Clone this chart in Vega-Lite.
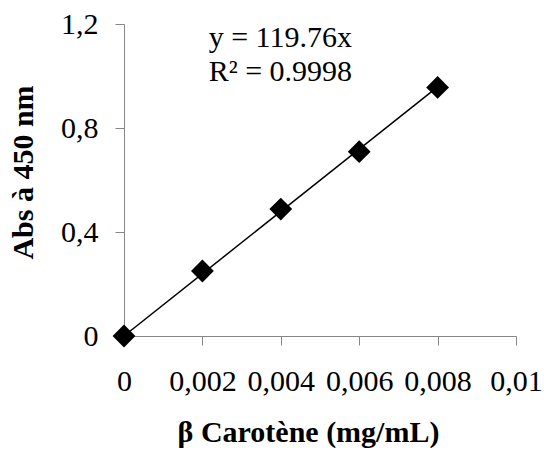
{
  "$schema": "https://vega.github.io/schema/vega-lite/v6.json",
  "width": 392,
  "height": 312,
  "autosize": {"type": "none"},
  "padding": {"left": 124, "top": 24, "right": 28, "bottom": 117},
  "background": "white",
  "config": {
    "view": {"stroke": null},
    "font": "Liberation Serif",
    "axis": {
      "grid": false,
      "domainColor": "#868686",
      "tickColor": "#868686",
      "tickSize": 9,
      "labelFont": "Liberation Serif",
      "labelFontSize": 30,
      "labelColor": "black",
      "titleFont": "Liberation Serif",
      "titleFontSize": 30,
      "titleFontWeight": "bold",
      "titleColor": "black"
    }
  },
  "datasets": {
    "points": [
      {"conc": 0, "abs": 0},
      {"conc": 0.002, "abs": 0.25},
      {"conc": 0.004, "abs": 0.488},
      {"conc": 0.006, "abs": 0.709},
      {"conc": 0.008, "abs": 0.956}
    ],
    "trend": [
      {"conc": 0, "abs": 0},
      {"conc": 0.008, "abs": 0.95808}
    ],
    "eq": [
      {"conc": 0.00216, "abs": 1.146, "label": "y = 119.76x"},
      {"conc": 0.00216, "abs": 1.015, "label": "R² = 0.9998"}
    ]
  },
  "encoding": {
    "x": {
      "field": "conc",
      "type": "quantitative",
      "scale": {"domain": [0, 0.01], "nice": false, "zero": true},
      "axis": {
        "title": "β Carotène (mg/mL)",
        "values": [0, 0.002, 0.004, 0.006, 0.008, 0.01],
        "labelExpr": "replace(format(datum.value, '.3~f'), '.', ',')",
        "labelBaseline": "middle",
        "labelPadding": 36,
        "labelFlush": false,
        "labelOverlap": false,
        "titleX": 184,
        "titleY": 96,
        "titleBaseline": "middle",
        "titleAlign": "center",
        "titleAnchor": null
      }
    },
    "y": {
      "field": "abs",
      "type": "quantitative",
      "scale": {"domain": [0, 1.2], "nice": false},
      "axis": {
        "title": "Abs à 450 nm",
        "values": [0, 0.4, 0.8, 1.2],
        "labelExpr": "replace(format(datum.value, '.1~f'), '.', ',')",
        "labelPadding": 17,
        "labelFlush": false,
        "labelOverlap": false,
        "titleX": -101,
        "titleY": 148,
        "titleAngle": -90,
        "titleBaseline": "middle",
        "titleAlign": "center",
        "titleAnchor": null
      }
    }
  },
  "layer": [
    {
      "data": {"name": "trend"},
      "mark": {"type": "line", "color": "black", "strokeWidth": 1.5}
    },
    {
      "data": {"name": "points"},
      "mark": {"type": "point", "shape": "diamond", "filled": true, "color": "black", "size": 520, "opacity": 1}
    },
    {
      "data": {"name": "eq"},
      "mark": {"type": "text", "align": "left", "baseline": "middle", "fontSize": 30, "font": "Liberation Serif", "color": "black"},
      "encoding": {"text": {"field": "label"}}
    }
  ]
}
